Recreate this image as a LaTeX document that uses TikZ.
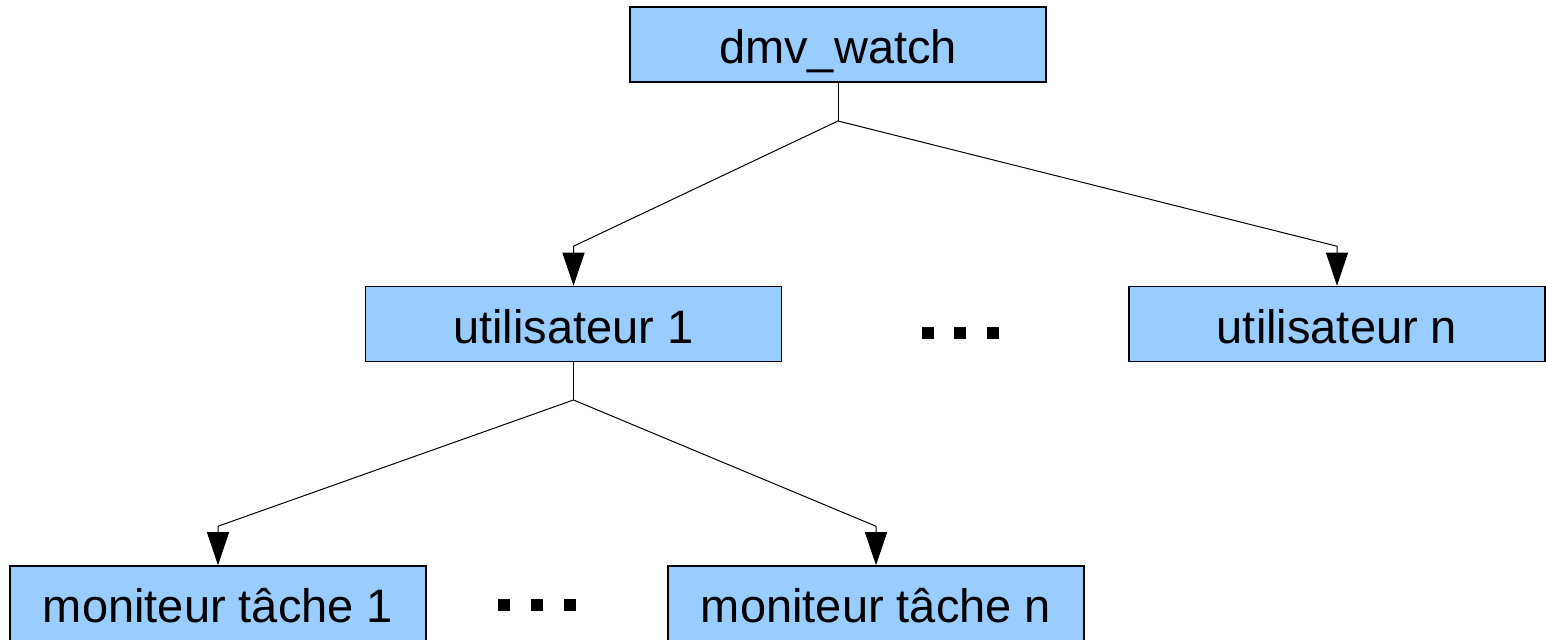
\documentclass[tikz,border=0pt]{standalone}
\usepackage{fontspec}
\setmainfont{Liberation Sans}
\usetikzlibrary{arrows.meta}
\definecolor{boxblue}{HTML}{99CCFF}

\begin{document}
\begin{tikzpicture}[x=1pt, y=1pt,
    box/.style={draw=black, line width=0.75pt, fill=boxblue, inner sep=0pt,
      minimum width=208pt, minimum height=37.5pt, text height=28.25pt, text depth=8.75pt,
      font=\fontsize{23.5}{28}\selectfont},
    link/.style={line width=0.5pt},
    tip/.style={link, -{Triangle[length=16.5pt, width=11pt]}},
    dot/.style={fill=black, inner sep=0pt, minimum size=6pt}]
    \useasboundingbox (0,0) rectangle (773,320);
    \node[box] (watch) at (419,297.75) {dmv\_watch};
    \node[box] (u1) at (286.75,158) {utilisateur 1};
    \node[box] (un) at (668.5,158) {utilisateur n};
    \node[box] (m1) at (109,18.25) {moniteur tâche 1};
    \node[box] (mn) at (438,18.25) {moniteur tâche n};
    % points de suspension
    \node[dot] (d1) at (464,153.5) {};
    \node[dot] (d2) at (480,153.5) {};
    \node[dot] (d3) at (496.5,153.5) {};
    \node[dot] (e1) at (252,17.5) {};
    \node[dot] (e2) at (268.5,17.5) {};
    \node[dot] (e3) at (285,17.5) {};
    % liens
    \coordinate (j1) at (419,259.5);
    \coordinate (j2) at (286.75,120);
    \draw[link] (watch) -- (j1);
    \draw[tip] (j1) -- ([yshift=19.75pt]u1.north) -- (u1);
    \draw[tip] (j1) -- ([yshift=19.75pt]un.north) -- (un);
    \draw[link] (u1) -- (j2);
    \draw[tip] (j2) -- ([yshift=19.5pt]m1.north) -- (m1);
    \draw[tip] (j2) -- ([yshift=19.5pt]mn.north) -- (mn);
\end{tikzpicture}
\end{document}
